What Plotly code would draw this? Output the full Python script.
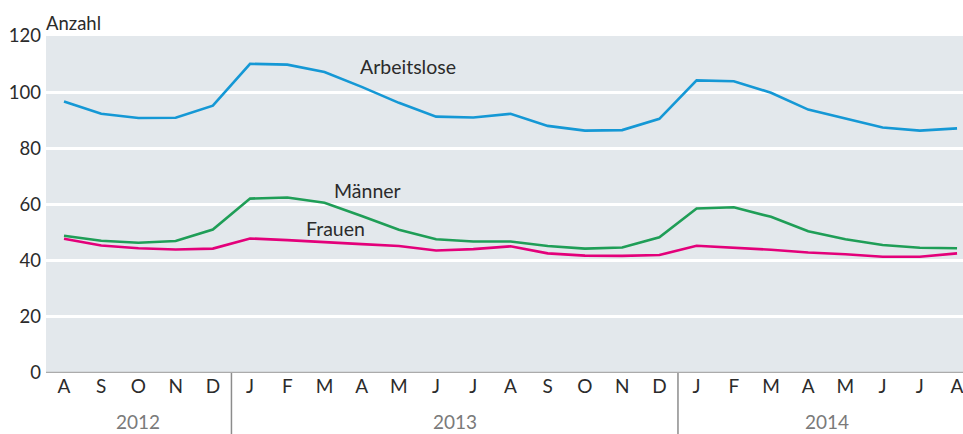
import plotly.graph_objects as go

months = ["A", "S", "O", "N", "D",
          "J", "F", "M", "A", "M", "J", "J", "A", "S", "O", "N", "D",
          "J", "F", "M", "A", "M", "J", "J", "A"]
years = ["2012", "2013", "2014"]
year_centers = [2, 10.5, 20.5]
year_bounds = [4.5, 16.5]

arbeitslose = [96.7, 92.3, 90.8, 90.9, 95.2,
               110.1, 109.8, 107.2, 101.9, 96.2, 91.3, 91.0, 92.3, 88.0, 86.3, 86.5, 90.5,
               104.2, 103.9, 99.8, 93.8, 90.5, 87.4, 86.3, 87.1]
maenner = [48.9, 47.1, 46.4, 47.0, 51.1,
           62.1, 62.5, 60.6, 55.9, 51.0, 47.6, 46.8, 46.8, 45.2, 44.3, 44.7, 48.3,
           58.6, 59.0, 55.6, 50.5, 47.6, 45.6, 44.6, 44.4]
frauen = [47.8, 45.4, 44.4, 44.0, 44.3,
          47.9, 47.3, 46.5, 45.9, 45.2, 43.6, 44.1, 45.1, 42.6, 41.8, 41.7, 42.0,
          45.3, 44.6, 43.9, 42.9, 42.3, 41.4, 41.4, 42.6]

series_names = ["Arbeitslose", "Männer", "Frauen"]
label_pos = [(9.25, 109.3), (8.15, 65.0), (7.3, 51.4)]

x = list(range(len(months)))
FONT = "Lato, 'Source Sans Pro', 'Noto Sans', sans-serif"

fig = go.Figure()
colors = ["#1598d5", "#1f9e57", "#e3007a"]
for name, vals, col in zip(series_names, [arbeitslose, maenner, frauen], colors):
    fig.add_trace(go.Scatter(x=x, y=vals, mode="lines", name=name,
                             line=dict(color=col, width=2.6), showlegend=False,
                             hoverinfo="skip"))

for name, (lx, ly) in zip(series_names, label_pos):
    fig.add_annotation(x=lx, y=ly, text=name, showarrow=False,
                       font=dict(family=FONT, size=19.5, color="#2b2b2b"))

for yc, yr in zip(year_centers, years):
    fig.add_annotation(x=yc, y=-0.145, xref="x", yref="paper", text=yr,
                       showarrow=False, yanchor="middle",
                       font=dict(family=FONT, size=19, color="#7a7a7a"))

for xb in year_bounds:
    fig.add_shape(type="line", x0=xb, x1=xb, xref="x", yref="paper",
                  y0=0, y1=-0.19, line=dict(color="#8c8c8c", width=1.5))

fig.add_shape(type="line", x0=0, x1=1, xref="paper", yref="y", y0=0, y1=0,
              line=dict(color="#ababab", width=2.5), layer="above")

fig.add_annotation(x=0, y=1, xref="paper", yref="paper", text="Anzahl",
                   showarrow=False, xanchor="left", yanchor="bottom", xshift=-2,
                   yshift=0,
                   font=dict(family=FONT, size=18.5, color="#2b2b2b"))

fig.update_layout(
    width=963, height=434,
    margin=dict(l=46, r=0, t=36, b=61),
    paper_bgcolor="white",
    plot_bgcolor="#e3e8ec",
    font=dict(family=FONT, size=18, color="#2b2b2b"),
    xaxis=dict(range=[-0.484, 24.16], tickmode="array", tickvals=x, ticktext=months,
               showgrid=False, zeroline=False, showline=False, ticks="",
               ticklabeloverflow="allow",
               tickfont=dict(family=FONT, size=19, color="#2b2b2b"),
               fixedrange=True),
    yaxis=dict(range=[0, 120], tickmode="array", tickvals=[0, 20, 40, 60, 80, 100, 120],
               showgrid=True, gridcolor="white", gridwidth=2.5, zeroline=False,
               showline=False, ticks="", ticklabelstandoff=4,
               tickfont=dict(family=FONT, size=18.5, color="#2b2b2b"),
               fixedrange=True),
)

fig.write_html("out.html", config={"displayModeBar": False},
               post_script="document.body.style.margin='0';document.body.style.overflow='hidden';")
